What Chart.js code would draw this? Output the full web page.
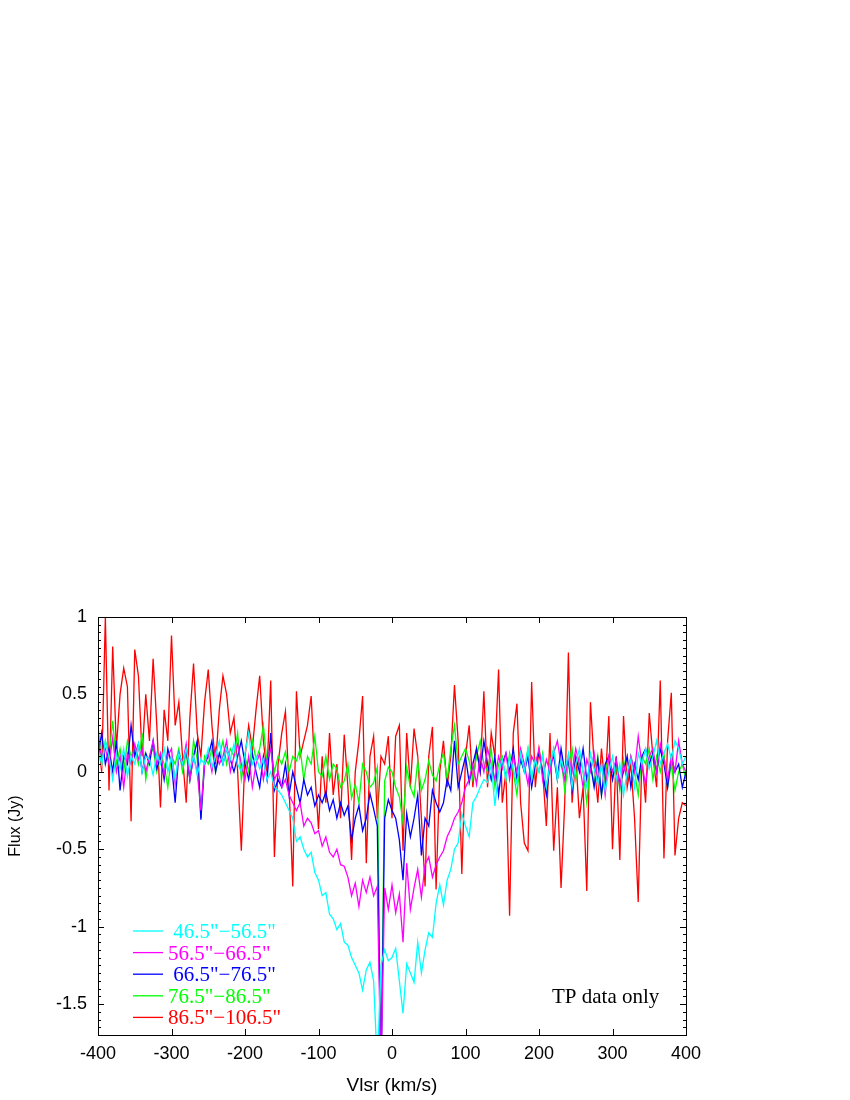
<!DOCTYPE html>
<html>
<head>
<meta charset="utf-8">
<script src="https://cdn.jsdelivr.net/npm/chart.js@4"></script>
<style>
	body { margin: 0; background: #fff; }
	#wrap { width: 850px; height: 1100px; }
</style>
</head>
<body>
<div id="wrap"><canvas id="chart-1" width="850" height="1100"></canvas></div>
<script>
// velocity channels (km/s)
const velocity = [
	-400, -395, -390, -385, -380, -375, -370, -365, -360, -355,
	-350, -345, -340, -335, -330, -325, -320, -315, -310, -305,
	-300, -295, -290, -285, -280, -275, -270, -265, -260, -255,
	-250, -245, -240, -235, -230, -225, -220, -215, -210, -205,
	-200, -195, -190, -185, -180, -175, -170, -165, -160, -155,
	-150, -145, -140, -135, -130, -125, -120, -115, -110, -105,
	-100, -95, -90, -85, -80, -75, -70, -65, -60, -55,
	-50, -45, -40, -35, -30, -25, -20, -15, -10, -5,
	0, 5, 10, 15, 20, 25, 30, 35, 40, 45,
	50, 55, 60, 65, 70, 75, 80, 85, 90, 95,
	100, 105, 110, 115, 120, 125, 130, 135, 140, 145,
	150, 155, 160, 165, 170, 175, 180, 185, 190, 195,
	200, 205, 210, 215, 220, 225, 230, 235, 240, 245,
	250, 255, 260, 265, 270, 275, 280, 285, 290, 295,
	300, 305, 310, 315, 320, 325, 330, 335, 340, 345,
	350, 355, 360, 365, 370, 375, 380, 385, 390, 395,
	400
];

const flux46 = [
	0.15, 0.05, 0.2, 0.1, -0.05, 0.12, 0.02, 0.15, -0.03, 0.1,
	0.05, 0.18, 0.0, 0.1, 0.08, -0.02, 0.12, 0.05, 0.15, 0.0,
	0.1, -0.05, 0.12, 0.05, 0.15, 0.02, 0.1, -0.02, 0.08, 0.05,
	0.15, 0.03, 0.1, 0.2, 0.05, 0.15, 0.08, 0.18, 0.05, 0.0,
	0.12, 0.25, 0.05, 0.1, 0.02, 0.08, -0.05, 0.0, -0.1, -0.12,
	-0.15, -0.2, -0.25, -0.3, -0.45, -0.42, -0.5, -0.55, -0.52, -0.65,
	-0.7, -0.8, -0.78, -0.92, -0.95, -1.02, -0.98, -1.1, -1.12, -1.2,
	-1.25, -1.3, -1.41, -1.28, -1.23, -1.35, -1.9, -1.25, -1.15, -1.22,
	-1.2, -1.14, -1.35, -1.56, -1.24, -1.3, -1.36, -1.1, -1.3, -1.15,
	-1.04, -1.07, -0.85, -0.73, -0.86, -0.7, -0.63, -0.5, -0.46, -0.27,
	-0.35, -0.42, -0.2, -0.16, -0.1, -0.05, -0.07, 0.05, -0.22, 0.0,
	0.08, -0.05, 0.1, 0.02, -0.08, 0.12, 0.0, 0.15, -0.05, 0.08,
	0.0, 0.1, -0.1, 0.05, 0.15, -0.05, 0.08, 0.0, 0.12, -0.1,
	0.05, 0.15, 0.0, -0.1, 0.12, 0.02, -0.08, 0.05, -0.12, 0.0,
	0.1, -0.05, 0.05, -0.15, 0.0, 0.08, -0.1, 0.12, 0.05, 0.15,
	0.02, 0.1, 0.2, 0.05, 0.12, 0.18, 0.08, 0.2, 0.15, 0.05,
	0.1
];

const flux56 = [
	0.2, 0.1, 0.15, 0.05, 0.22, 0.0, 0.1, -0.1, 0.12, 0.05,
	0.18, 0.08, 0.15, 0.0, 0.1, 0.2, 0.05, 0.12, -0.02, 0.1,
	0.15, -0.08, 0.1, 0.05, 0.18, -0.05, 0.1, 0.0, -0.25, 0.05,
	0.12, 0.0, 0.15, 0.05, 0.1, 0.2, 0.0, 0.1, 0.18, 0.05,
	-0.05, 0.1, -0.1, 0.05, 0.12, -0.05, 0.08, 0.15, -0.05, 0.0,
	-0.1, -0.05, -0.15, -0.2, -0.25, -0.2, -0.35, -0.3, -0.33, -0.4,
	-0.38, -0.48, -0.42, -0.52, -0.55, -0.5, -0.6, -0.61, -0.68, -0.8,
	-0.72, -0.87, -0.7, -0.78, -0.68, -0.8, -0.74, -1.95, -0.75, -0.89,
	-0.73, -0.91, -0.79, -1.1, -0.59, -0.89, -0.75, -0.63, -0.81, -0.6,
	-0.55, -0.68, -0.6, -0.55, -0.51, -0.42, -0.37, -0.3, -0.26, -0.2,
	-0.1, -0.05, 0.05, -0.08, 0.1, 0.0, 0.15, 0.05, -0.05, 0.1,
	0.02, 0.12, -0.05, 0.1, 0.0, 0.15, 0.05, -0.08, 0.1, 0.05,
	0.15, -0.05, 0.08, 0.0, 0.12, 0.2, 0.05, -0.05, 0.1, 0.0,
	0.15, 0.05, -0.1, 0.08, 0.0, 0.12, -0.05, 0.05, -0.15, 0.1,
	0.0, 0.08, -0.1, 0.05, -0.05, 0.1, 0.0, 0.23, 0.05, -0.08,
	0.1, 0.15, 0.0, 0.18, 0.08, -0.05, 0.1, 0.0, 0.2, 0.05,
	0.0
];

const flux66 = [
	0.1, 0.25, 0.05, 0.15, 0.0, 0.2, -0.12, 0.1, 0.05, 0.3,
	0.1, 0.18, 0.0, 0.12, 0.05, 0.2, 0.02, 0.1, -0.05, 0.15,
	0.05, -0.2, 0.12, 0.05, 0.15, -0.05, 0.1, 0.2, -0.31, 0.05,
	0.1, 0.2, 0.0, 0.12, 0.05, 0.15, 0.08, 0.0, 0.1, 0.2,
	0.05, -0.05, 0.12, 0.0, -0.1, 0.1, -0.05, 0.25, -0.12, -0.05,
	-0.1, 0.05, -0.15, 0.0, -0.1, -0.2, -0.05, -0.15, -0.1, -0.22,
	-0.15, -0.2, -0.13, -0.25, -0.18, -0.3, -0.2, -0.28, -0.22, -0.44,
	-0.3, -0.22, -0.38, -0.3, -0.14, -0.24, -0.35, -2.0, -0.3, -0.18,
	-0.25, -0.3, -0.44, -0.7, -0.27, -0.42, -0.3, -0.15, -0.54, -0.3,
	-0.35, -0.12, -0.2, -0.26, -0.2, -0.05, -0.12, 0.2, -0.1, 0.0,
	0.1, -0.07, 0.05, 0.15, 0.0, 0.2, 0.05, -0.05, 0.1, -0.15,
	0.05, 0.12, 0.0, 0.15, -0.05, 0.08, 0.0, 0.1, -0.1, 0.05,
	0.12, 0.0, -0.15, 0.05, 0.1, -0.05, 0.15, 0.0, 0.08, -0.12,
	0.1, 0.0, 0.15, -0.05, 0.05, -0.1, 0.08, -0.15, 0.05, 0.1,
	-0.05, 0.08, -0.08, 0.0, 0.1, -0.1, 0.05, -0.05, 0.1, 0.15,
	0.05, 0.12, 0.0, 0.15, 0.05, -0.1, 0.1, 0.0, 0.05, -0.1,
	0.0
];

const flux76 = [
	0.3, 0.05, 0.2, 0.1, 0.33, 0.05, 0.15, 0.0, 0.2, 0.1,
	0.15, 0.05, 0.25, -0.05, 0.1, 0.15, 0.0, 0.12, 0.05, -0.1,
	0.1, 0.05, 0.15, 0.0, 0.12, -0.05, 0.2, 0.08, -0.3, 0.1,
	0.05, 0.15, 0.0, 0.1, 0.2, 0.05, 0.15, 0.1, 0.25, -0.05,
	0.1, 0.0, 0.2, 0.08, 0.15, 0.3, 0.05, 0.15, 0.0, 0.1,
	0.05, 0.13, 0.0, 0.1, 0.07, 0.15, -0.05, 0.1, 0.05, 0.23,
	0.0, -0.03, 0.1, -0.05, 0.05, 0.02, -0.1, -0.06, 0.05, -0.17,
	-0.08, -0.2, 0.05, 0.0, -0.1, -0.07, 0.03, -1.95, -0.06, 0.03,
	0.0, -0.1, -0.16, -0.33, 0.03, -0.1, -0.16, 0.07, -0.12, -0.05,
	0.07, -0.02, -0.06, 0.05, 0.12, -0.05, 0.15, 0.3, 0.05, 0.1,
	0.15, 0.07, -0.05, 0.1, 0.2, 0.05, 0.0, 0.15, -0.1, 0.05,
	0.1, -0.05, 0.12, 0.0, -0.15, 0.1, 0.02, 0.15, -0.05, 0.08,
	0.0, 0.12, -0.1, 0.05, 0.15, -0.05, 0.1, -0.12, 0.05, 0.15,
	-0.05, 0.1, 0.0, -0.2, 0.05, -0.08, 0.1, -0.15, 0.0, 0.1,
	-0.05, 0.05, -0.12, 0.08, -0.05, 0.1, 0.0, -0.15, 0.1, 0.05,
	0.15, -0.05, 0.1, 0.0, 0.12, -0.1, 0.05, -0.12, 0.0, 0.05,
	-0.05
];

const flux86 = [
	0.22, 0.0, 1.0, -0.12, 0.81, 0.15, 0.5, 0.67, 0.55, -0.32,
	0.79, 0.62, 0.1, 0.5, 0.2, 0.73, 0.3, -0.23, 0.4, 0.2,
	0.88, 0.3, 0.45, 0.1, -0.2, 0.35, 0.7, 0.25, 0.1, 0.45,
	0.66, 0.3, 0.05, 0.4, 0.62, 0.5, 0.25, 0.35, 0.0, -0.51,
	0.1, 0.3, 0.15, 0.4, 0.62, 0.2, 0.0, 0.59, -0.55, 0.05,
	0.25, 0.39, -0.1, -0.74, 0.52, 0.1, 0.2, 0.3, 0.49, 0.0,
	-0.37, 0.1, -0.2, 0.25, -0.15, 0.05, -0.3, 0.24, -0.1, -0.57,
	0.0, 0.2, 0.49, -0.59, 0.1, 0.23, -0.3, 0.1, 0.05, 0.23,
	-0.3, 0.23, 0.3, -0.51, 0.25, -0.1, 0.28, 0.1, -0.3, -0.74,
	0.1, 0.29, -0.76, 0.0, 0.2, -0.1, 0.1, 0.56, 0.2, -0.66,
	0.1, 0.3, -0.1, 0.15, 0.0, 0.52, -0.1, 0.25, 0.1, 0.66,
	-0.2, 0.0, -0.93, 0.25, 0.44, -0.2, -0.46, -0.51, 0.58, -0.1,
	0.15, 0.0, -0.35, 0.25, -0.51, -0.1, -0.75, -0.2, 0.77, -0.2,
	0.1, -0.3, -0.1, -0.77, 0.45, 0.05, -0.2, 0.15, -0.1, 0.36,
	-0.5, 0.1, -0.57, 0.36, -0.1, 0.05, -0.3, -0.84, 0.1, -0.2,
	0.38, 0.1, -0.1, 0.59, -0.56, 0.2, 0.51, -0.54, -0.3, -0.2,
	-0.22
];

const seriesLabels = [" 46.5\"\u221256.5\"", "56.5\"\u221266.5\"", " 66.5\"\u221276.5\"", "76.5\"\u221286.5\"", "86.5\"\u2212106.5\""];
const seriesColors = ["#00ffff", "#ff00ff", "#0000ff", "#00ff00", "#ff0000"];
const seriesValues = [flux46, flux56, flux66, flux76, flux86];

const xTicks = [-400, -300, -200, -100, 0, 100, 200, 300, 400];
const yTicks = [-1.5, -1, -0.5, 0, 0.5, 1];
const noteText = "TP data only";

function toPoints(values) {
	return values.map((v, i) => ({x: velocity[i], y: v}));
}

// gnuplot style frame: inward ticks on all four sides
const frameTicks = {
	id: "frameTicks",
	afterDatasetsDraw(chart) {
		const ctx = chart.ctx;
		const a = chart.chartArea;
		const x = chart.scales.x;
		const y = chart.scales.y;
		ctx.save();
		ctx.strokeStyle = "#000";
		ctx.lineWidth = 1;
		ctx.beginPath();
		for (const v of xTicks) {
			const px = Math.round(x.getPixelForValue(v)) + 0.5;
			ctx.moveTo(px, a.bottom); ctx.lineTo(px, a.bottom - 6);
			ctx.moveTo(px, a.top); ctx.lineTo(px, a.top + 6);
		}
		for (let k = -34; k <= 20; k++) {
			const py = Math.round(y.getPixelForValue(k * 0.05)) + 0.5;
			const len = k % 10 === 0 ? 6 : 3;
			ctx.moveTo(a.left, py); ctx.lineTo(a.left + len, py);
			ctx.moveTo(a.right, py); ctx.lineTo(a.right - len, py);
		}
		ctx.stroke();
		ctx.strokeRect(Math.round(a.left) + 0.5, Math.round(a.top) + 0.5, Math.round(a.width), Math.round(a.height));

		// key, lower left
		ctx.font = "21px 'Liberation Serif', 'Times New Roman', serif";
		ctx.textAlign = "left";
		ctx.textBaseline = "alphabetic";
		chart.data.datasets.forEach((ds, i) => {
			const rowY = 931 + i * 21.6;
			ctx.strokeStyle = ds.borderColor;
			ctx.lineWidth = 1.3;
			ctx.beginPath();
			ctx.moveTo(133, rowY); ctx.lineTo(163, rowY);
			ctx.stroke();
			ctx.fillStyle = ds.borderColor;
			ctx.fillText(ds.label, 168, rowY + 7);
		});
		ctx.fillStyle = "#000";
		ctx.fillText(noteText, 552, 1003);
		ctx.restore();
	}
};

const sans = "'Liberation Sans', Arial, Helvetica, sans-serif";

new Chart("chart-1", {
	type: "line",
	data: {
		datasets: seriesValues.map((vals, i) => ({
			label: seriesLabels[i],
			data: toPoints(vals),
			borderColor: seriesColors[i],
			borderWidth: 1.3,
			pointRadius: 0,
			tension: 0,
			fill: false
		}))
	},
	options: {
		responsive: false,
		animation: false,
		devicePixelRatio: 1,
		layout: {padding: {top: 617, right: 164, left: 0, bottom: 0}},
		plugins: {
			legend: {display: false},
			tooltip: {enabled: false}
		},
		scales: {
			x: {
				type: "linear",
				min: -400,
				max: 400,
				grid: {display: false, drawTicks: false},
				border: {display: false},
				afterBuildTicks: s => { s.ticks = xTicks.map(v => ({value: v})); },
				afterFit: s => { s.height = 65; },
				ticks: {
					padding: 8,
					color: "#000",
					font: {family: sans, size: 18},
					callback: v => String(v)
				},
				title: {
					display: true,
					text: "Vlsr (km/s)",
					color: "#000",
					font: {family: sans, size: 19},
					padding: {top: 0, bottom: 3}
				}
			},
			y: {
				min: -1.7,
				max: 1,
				grid: {display: false, drawTicks: false},
				border: {display: false},
				afterBuildTicks: s => { s.ticks = yTicks.map(v => ({value: v})); },
				afterFit: s => { s.width = 98; },
				ticks: {
					padding: 11,
					color: "#000",
					font: {family: sans, size: 18},
					callback: v => String(v)
				},
				title: {
					display: true,
					text: "Flux (Jy)",
					color: "#000",
					font: {family: sans, size: 16},
					padding: {top: 6, bottom: 0}
				}
			}
		}
	},
	plugins: [frameTicks]
});
</script>
</body>
</html>
